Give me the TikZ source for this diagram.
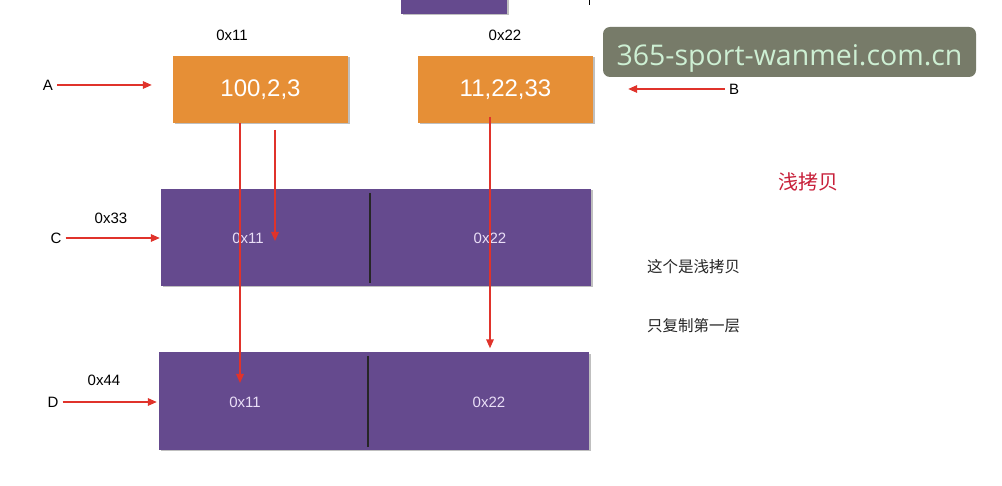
\documentclass[tikz,border=0pt]{standalone}
\usepackage{fontspec}
\setmainfont{Liberation Sans}
\newfontfamily\cjk{Noto Sans CJK SC}
\newfontfamily\wmfont{Open Sans}
\usetikzlibrary{arrows.meta,shadows}
\definecolor{orangebox}{HTML}{E68F36}
\definecolor{purplebox}{HTML}{654A8E}
\definecolor{redline}{HTML}{E0332B}
\definecolor{wmbg}{HTML}{777B69}
\definecolor{wmtext}{HTML}{CDEFD3}
\definecolor{cntext}{HTML}{C8203A}
\definecolor{celltext}{HTML}{EADFF7}
\begin{document}
\begin{tikzpicture}[x=1pt,y=-1pt,
  shadowed/.style={drop shadow={shadow xshift=1.5pt,shadow yshift=-1.5pt,fill=black,opacity=0.25}},
  obox/.style={shadowed,fill=orangebox,minimum width=175pt,minimum height=67pt,inner sep=0pt,text=white,font=\fontsize{24}{28}\selectfont},
  pbox/.style={shadowed,fill=purplebox,minimum width=430pt,minimum height=97pt,inner sep=0pt},
  celltxt/.style={text=celltext,font=\fontsize{15}{18}\selectfont,inner sep=0pt},
  lbl/.style={text=black,font=\fontsize{15}{18}\selectfont,inner sep=0pt},
  arr/.style={draw=redline,line width=1.6pt,-{Triangle[length=9pt,width=7.5pt]}},
  divider/.style={draw=black!85,line width=1.6pt},
  cnnote/.style={font=\cjk\fontsize{15.5}{18}\selectfont,inner sep=0pt,anchor=west,text=black!85}
]
\useasboundingbox[fill=white] (0,0) rectangle (1002,486);

% partial box at the top edge
\fill[purplebox,shadowed] (401,-5) rectangle (507,14);
\draw[black,line width=1pt] (589,0) -- (589,5);

% orange boxes
\node[obox] (boxA) at (260.5,89.5) {100,2,3};
\node[obox] (boxB) at (505.5,89.5) {11,22,33};
\node[lbl] (addrA) at (232,35) {0x11};
\node[lbl] (addrB) at (505,35) {0x22};

% purple boxes
\node[pbox] (boxC) at (376,237.5) {};
\node[pbox] (boxD) at (374,401) {};
\draw[divider] (370,193) -- (370,283);
\draw[divider] (368,356) -- (368,447);
\node[celltxt] (c1) at (248,238) {0x11};
\node[celltxt] (c2) at (490,238) {0x22};
\node[celltxt] (d1) at (245,402) {0x11};
\node[celltxt] (d2) at (489,402) {0x22};
\node[lbl] (addrC) at (111,218) {0x33};
\node[lbl] (addrD) at (104,380) {0x44};

% variable labels
\node[lbl] (labA) at (48,85) {A};
\node[lbl] (labB) at (734,89) {B};
\node[lbl] (labC) at (56,238) {C};
\node[lbl] (labD) at (53,402) {D};

% label arrows
\draw[arr,shorten <=4pt] (labA.east) -- ([xshift=-21pt]boxA.west |- labA);
\draw[arr,shorten <=4pt] (labB.west) -- ([xshift=35pt]boxB.east |- labB);
\draw[arr,shorten <=4pt,shorten >=1pt] (labC.east) -- (boxC.west |- labC);
\draw[arr,shorten <=4pt,shorten >=2pt] (labD.east) -- (boxD.west |- labD);

% reference arrows
\coordinate (v1end) at (240,383);
\coordinate (v2start) at (275,130);
\coordinate (v2end) at (275,241);
\coordinate (v3start) at (490,117);
\draw[arr] (boxA.south -| v1end) -- (v1end);
\draw[arr] (v2start) -- (v2end);
\draw[arr,shorten >=4pt] (v3start) -- (boxD.north -| v3start);

% notes
\node[font=\cjk\fontsize{20}{24}\selectfont,text=cntext,inner sep=0pt] (title) at (808,182) {浅拷贝};
\node[cnnote] (note1) at (647,267) {这个是浅拷贝};
\node[cnnote] (note2) at (647,326) {只复制第一层};

% watermark
\node[fill=wmbg,rounded corners=7pt,minimum width=373pt,minimum height=50pt,inner sep=0pt] (wm) at (789.5,52) {};
\node[text=wmtext,font=\wmfont\fontsize{28.5}{32}\selectfont,inner sep=0pt,text depth=0pt] (wmlabel) at (789.5,55) {365-sport-wanmei.com.cn};
\end{tikzpicture}
\end{document}
